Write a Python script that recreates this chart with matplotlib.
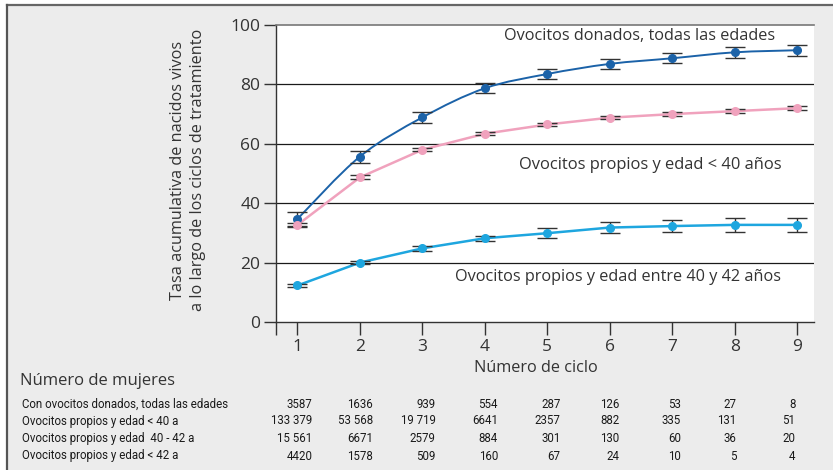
import numpy as np
import matplotlib
matplotlib.use('Agg')
import matplotlib.pyplot as plt
from matplotlib.path import Path
from matplotlib.patches import PathPatch

plt.rcParams['font.family'] = ['Open Sans', 'DejaVu Sans']

# datos
ciclos = [1, 2, 3, 4, 5, 6, 7, 8, 9]
donados = [34.7, 55.7, 68.9, 78.7, 83.5, 86.9, 88.8, 90.8, 91.5]
donados_err = [2.3, 2.0, 1.8, 1.7, 1.6, 1.7, 1.7, 1.9, 1.9]
propios_40 = [32.7, 48.7, 58.0, 63.4, 66.5, 68.8, 70.0, 71.0, 72.0]
propios_40_err = [0.8, 0.7, 0.5, 0.5, 0.4, 0.5, 0.6, 0.6, 0.7]
propios_40_42 = [12.3, 20.0, 24.8, 28.2, 29.9, 31.8, 32.3, 32.7, 32.7]
propios_40_42_err = [0.6, 0.6, 0.8, 0.9, 1.6, 1.8, 2.0, 2.4, 2.4]

filas = ['Con ovocitos donados, todas las edades',
         'Ovocitos propios y edad < 40 a',
         'Ovocitos propios y edad  40 - 42 a',
         'Ovocitos propios y edad < 42 a']
mujeres = [
    ['3587', '1636', '939', '554', '287', '126', '53', '27', '8'],
    ['133 379', '53 568', '19 719', '6641', '2357', '882', '335', '131', '51'],
    ['15 561', '6671', '2579', '884', '301', '130', '60', '36', '20'],
    ['4420', '1578', '509', '160', '67', '24', '10', '5', '4'],
]

W, H = 833, 470
fig = plt.figure(figsize=(W / 100, H / 100), dpi=100)
fig.patch.set_facecolor('white')
# fondo gris con borde arriba e izquierda
fig.patches.append(plt.Rectangle((6.5 / W, 0), 1, 1 - 4.5 / H, transform=fig.transFigure,
                                 facecolor='#ececec', edgecolor='none', zorder=-10))
fig.lines.append(plt.Line2D([6.5 / W, 1], [1 - 4.5 / H] * 2, transform=fig.transFigure, color='#666666', lw=1.6))
fig.lines.append(plt.Line2D([6.5 / W] * 2, [0, 1 - 4.5 / H], transform=fig.transFigure, color='#555555', lw=1.6))

ax = fig.add_axes([275.5 / W, 1 - 322 / H, (814 - 275.5) / W, (322 - 25) / H])
ax.set_facecolor('white')
x0, x1 = 0.648, 9.27
ax.set_xlim(x0, x1)
ax.set_ylim(0, 100)

for y in [20, 40, 60, 80]:
    ax.axhline(y, color='#1a1a1a', lw=0.9, zorder=1)

ax.spines['right'].set_visible(False)
ax.spines['top'].set_color('#777777')
ax.spines['top'].set_linewidth(1.2)
ax.spines['left'].set_color('#333333')
ax.spines['bottom'].set_color('#333333')
ax.spines['left'].set_linewidth(1.0)
ax.spines['bottom'].set_linewidth(1.0)

ax.set_yticks([0, 20, 40, 60, 80, 100])
ax.set_xticks([x0] + ciclos)
ax.set_xticklabels([''] + [str(c) for c in ciclos])
ax.tick_params(axis='both', direction='out', length=9, width=1.0, color='#333333',
               labelsize=12.5, labelcolor='#333333')
ax.tick_params(axis='x', pad=3)
ax.tick_params(axis='y', pad=2)


def curva_suave(xs, ys):
    # Catmull-Rom -> bezier cubicas
    pts = np.column_stack([xs, ys])
    verts = [pts[0]]
    codes = [Path.MOVETO]
    for i in range(len(pts) - 1):
        p0 = pts[i - 1] if i > 0 else pts[i]
        p1 = pts[i]
        p2 = pts[i + 1]
        p3 = pts[i + 2] if i + 2 < len(pts) else pts[i + 1]
        c1 = p1 + (p2 - p0) / 6
        c2 = p2 - (p3 - p1) / 6
        verts += [c1, c2, p2]
        codes += [Path.CURVE4] * 3
    return Path(verts, codes)


azul = '#1b62a8'
rosa = '#f0a2bd'
celeste = '#1ea6df'

ax.add_patch(PathPatch(curva_suave(ciclos, donados), facecolor='none', edgecolor=azul, lw=1.4, zorder=3))
ax.plot(ciclos, propios_40, color=rosa, lw=1.8, zorder=3)
ax.plot(ciclos, propios_40_42, color=celeste, lw=1.8, zorder=3)

for vals, errs, col in [(donados, donados_err, azul), (propios_40, propios_40_err, rosa),
                        (propios_40_42, propios_40_42_err, celeste)]:
    ax.errorbar(ciclos, vals, yerr=errs, fmt='none', ecolor='#333333', elinewidth=1.0,
                capsize=7, capthick=1.0, zorder=4)
    ax.plot(ciclos, vals, 'o', color=col, ms=5.5, zorder=5)

gris = '#333333'
fig.text(640 / W, 1 - 36 / H, 'Ovocitos donados, todas las edades', fontsize=11.7, color=gris,
         ha='center', va='center')
fig.text(650 / W, 1 - 165 / H, 'Ovocitos propios y edad < 40 años', fontsize=11.9, color=gris,
         ha='center', va='center')
fig.text(618 / W, 1 - 277 / H, 'Ovocitos propios y edad entre 40 y 42 años', fontsize=11.7, color=gris,
         ha='center', va='center')

fig.text(188 / W, 1 - 170 / H, 'Tasa acumulativa de nacidos vivos\na lo largo de los ciclos de tratamiento',
         rotation=90, fontsize=11.7, color=gris, ha='center', va='center', linespacing=1.4)
fig.text(536 / W, 1 - 368 / H, 'Número de ciclo', fontsize=11.7, color=gris, ha='center', va='center')
fig.text(20 / W, 1 - 381 / H, 'Número de mujeres', fontsize=12, color=gris, ha='left', va='center')

desplaz = [0.24, 0.21, 0.21, 0.21, 0.21, 0.16, 0.14, 0.03, -0.03]
fila_y = [404, 421, 438.5, 456]
tabla_font = ['Roboto', 'DejaVu Sans']
for fila, nums, yp in zip(filas, mujeres, fila_y):
    fig.text(22 / W, 1 - yp / H, fila, fontsize=8.3, family=tabla_font, color='#1a1a1a', ha='left', va='center')
    for c, d, n in zip(ciclos, desplaz, nums):
        xpix = ax.transData.transform((c + d, 0))[0]
        fig.text(xpix / W, 1 - yp / H, n, fontsize=8.3, family=tabla_font, color='#1a1a1a',
                 ha='right', va='center')

fig.savefig('out.png', dpi=100)
